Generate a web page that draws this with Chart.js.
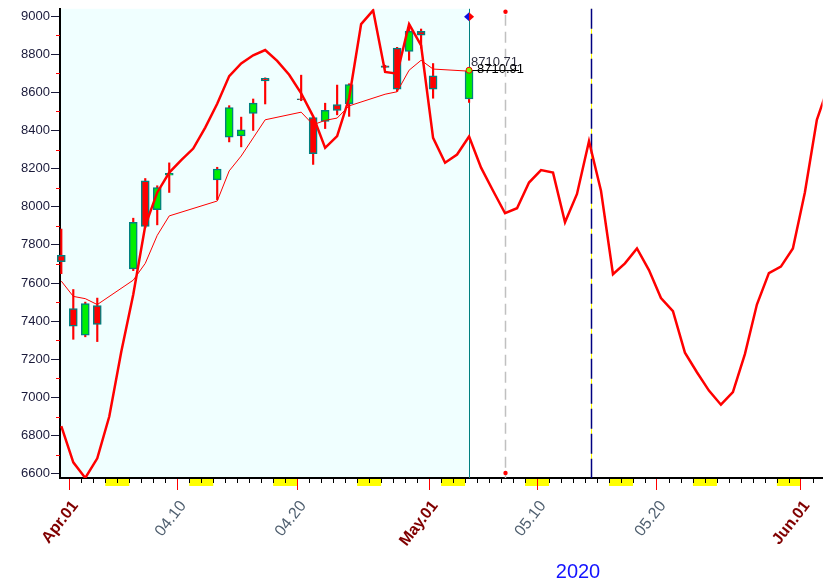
<!DOCTYPE html>
<html>
<head>
<meta charset="utf-8">
<script src="https://cdn.jsdelivr.net/npm/chart.js@4.4.0/dist/chart.umd.min.js"></script>
<style>
  html, body { margin: 0; padding: 0; background: #fff; }
</style>
</head>
<body>
<canvas id="chart" width="823" height="582"></canvas>
<script>
// days are counted from Apr 1 2020 (0 = Apr.01, -1 = Mar 31)
const candleDays = [-1, 0, 1, 2, 5, 6, 7, 8, 12, 13, 14, 15, 16, 19, 20, 21, 22, 23, 26, 27, 28, 29, 30, 33];
const opens  = [7745, 7466, 7326, 7482, 7674, 8136, 7985, 8165, 8141, 8365, 8372, 8489, 8674, 8566, 8468, 8448, 8536, 8541, 8739, 8832, 8815, 8920, 8687, 8565];
const highs  = [7883, 7566, 7500, 7521, 7940, 8148, 8110, 8230, 8207, 8530, 8470, 8565, 8676, 8690, 8472, 8543, 8638, 8645, 8742, 8836, 8955, 8932, 8751, 8716];
const lows   = [7649, 7305, 7318, 7293, 7665, 7890, 7905, 8075, 8037, 8340, 8314, 8400, 8539, 8556, 8222, 8410, 8482, 8474, 8728, 8605, 8768, 8832, 8569, 8547];
const closes = [7712, 7374, 7492, 7383, 7918, 7897, 8100, 8175, 8198, 8520, 8403, 8543, 8660, 8562, 8278, 8505, 8505, 8640, 8731, 8617, 8920, 8900, 8617, 8710.71];

// moving average, one value per candle
const maValues = [7610, 7530, 7518, 7487, 7615, 7703, 7850, 7952, 8030, 8188, 8266, 8361, 8456, 8496, 8430, 8453, 8465, 8529, 8590, 8603, 8716, 8768, 8722, 8711];

// cycle line, one value per calendar day starting Mar 31
const cycleStart = -1;
const cycleValues = [
  6850, 6660, 6578, 6681, 6900, 7240, 7540, 7900, 8075, 8179,
  8245, 8305, 8415, 8540, 8685, 8752, 8794, 8822, 8765, 8692,
  8595, 8474, 8309, 8370, 8570, 8958, 9030, 8707, 8698, 8958,
  8846, 8361, 8231, 8274, 8368, 8205, 8084, 7966, 7992, 8127,
  8192, 8179, 7919, 8067, 8344, 8084, 7646, 7703, 7781, 7668,
  7521, 7452, 7235, 7132, 7036, 6962, 7028, 7227, 7487, 7652,
  7686, 7781, 8075, 8456, 8640
];

const tickDays   = [0, 9, 19, 30, 39, 49, 61];
const tickLabels = ["Apr.01", "04.10", "04.20", "May.01", "05.10", "05.20", "Jun.01"];
const monthStart = [true, false, false, true, false, false, true];
const yTicks = [6600, 6800, 7000, 7200, 7400, 7600, 7800, 8000, 8200, 8400, 8600, 8800, 9000];

const lastClose = 8710.71;
const lastMark = 8710.91;
const nowDay = 33;     // May 4, end of history
const projDay = 36;    // May 7
const turnDay = 43.5;  // May 14
const yearLabel = "2020";

const SESSION = 1 / 3; // bars sit a bit to the right of the date tick
const FONT = "'Liberation Sans', Arial, sans-serif";

const bodies = candleDays.map((d, i) => ({ x: d + SESSION, y: [opens[i], closes[i]] }));
const wicks = candleDays.map((d, i) => ({ x: d + SESSION, y: [lows[i], highs[i]] }));
const bodyColors = candleDays.map((d, i) => (closes[i] >= opens[i] ? "#00ee00" : "#ff0000"));
const maPoints = candleDays.map((d, i) => ({ x: d + SESSION, y: maValues[i] }));
const cyclePoints = cycleValues.map((v, i) => ({ x: cycleStart + i + SESSION, y: v }));

function isMonthTick(c) {
  if (!c || !c.tick) return false;
  return !!monthStart[tickDays.indexOf(c.tick.value)];
}

const overlay = {
  id: "overlay",
  beforeDraw(chart) {
    const { ctx, chartArea: a, scales: { x } } = chart;
    const nowX = x.getPixelForValue(nowDay + SESSION);
    ctx.save();
    ctx.fillStyle = "#f0ffff";
    ctx.fillRect(a.left, a.top, nowX - a.left, a.bottom - a.top);
    // weekend marks under the axis
    ctx.fillStyle = "#ffff00";
    for (let d = Math.ceil(x.min); d < x.max; d++) {
      if (new Date(2020, 3, 1 + d).getDay() !== 6) continue;
      const x0 = x.getPixelForValue(d);
      const x1 = Math.min(x.getPixelForValue(d + 2), a.right);
      ctx.fillRect(x0, a.bottom, x1 - x0, 8);
    }
    ctx.restore();
  },
  beforeDatasetsDraw(chart) {
    const { ctx, chartArea: a, scales: { x } } = chart;
    ctx.save();
    // end of history
    const nowX = Math.round(x.getPixelForValue(nowDay + SESSION)) + 0.5;
    ctx.strokeStyle = "#008080";
    ctx.lineWidth = 1;
    ctx.beginPath(); ctx.moveTo(nowX, a.top); ctx.lineTo(nowX, a.bottom); ctx.stroke();
    // projection day
    const pX = Math.round(x.getPixelForValue(projDay + SESSION)) + 0.5;
    ctx.strokeStyle = "#c0c0c0";
    ctx.lineWidth = 1.5;
    ctx.setLineDash([11, 6]);
    ctx.beginPath(); ctx.moveTo(pX, a.top + 6); ctx.lineTo(pX, a.bottom); ctx.stroke();
    // turning point
    const tX = Math.round(x.getPixelForValue(turnDay)) + 0.5;
    ctx.lineWidth = 1;
    ctx.setLineDash([]);
    ctx.strokeStyle = "#ffff00";
    ctx.beginPath(); ctx.moveTo(tX, a.top); ctx.lineTo(tX, a.bottom); ctx.stroke();
    ctx.strokeStyle = "#000080";
    ctx.lineWidth = 1.5;
    ctx.setLineDash([20, 5]);
    ctx.beginPath(); ctx.moveTo(tX, a.top); ctx.lineTo(tX, a.bottom); ctx.stroke();
    ctx.restore();
  },
  afterDatasetsDraw(chart) {
    const { ctx, chartArea: a, scales: { x, y } } = chart;
    const nowX = x.getPixelForValue(nowDay + SESSION);
    const yLast = y.getPixelForValue(lastClose);
    ctx.save();
    // last price line and labels
    ctx.strokeStyle = "#000";
    ctx.lineWidth = 1;
    ctx.beginPath();
    ctx.moveTo(nowX, Math.round(yLast) - 0.5);
    ctx.lineTo(nowX + 50, Math.round(yLast) - 0.5);
    ctx.stroke();
    ctx.font = "13px " + FONT;
    ctx.textBaseline = "alphabetic";
    ctx.fillStyle = "#303040";
    ctx.fillText(lastClose.toFixed(2), nowX + 2, yLast - 5);
    ctx.fillStyle = "#000";
    ctx.fillText(lastMark.toFixed(2), nowX + 8, yLast + 2);
    ctx.beginPath();
    ctx.arc(nowX, yLast - 1, 3, 0, Math.PI * 2);
    ctx.fillStyle = "#7fff00";
    ctx.fill();
    ctx.strokeStyle = "#ff0000";
    ctx.stroke();
    // diamond on top of the history line
    const cy = a.top + 8;
    ctx.fillStyle = "#1010e0";
    ctx.beginPath(); ctx.moveTo(nowX - 5, cy); ctx.lineTo(nowX, cy - 4.5); ctx.lineTo(nowX, cy + 4.5); ctx.fill();
    ctx.fillStyle = "#ff0000";
    ctx.beginPath(); ctx.moveTo(nowX + 5, cy); ctx.lineTo(nowX, cy - 4.5); ctx.lineTo(nowX, cy + 4.5); ctx.fill();
    // red dots on the projection line
    const pX = Math.round(x.getPixelForValue(projDay + SESSION)) + 0.5;
    ctx.fillStyle = "#ff0000";
    ctx.beginPath(); ctx.arc(pX, a.top + 3, 2.2, 0, Math.PI * 2); ctx.fill();
    ctx.beginPath(); ctx.arc(pX, a.bottom - 5, 2.2, 0, Math.PI * 2); ctx.fill();
    ctx.restore();
  },
  afterDraw(chart) {
    const { ctx, chartArea: a, scales: { x, y } } = chart;
    ctx.save();
    // daily minor ticks
    ctx.strokeStyle = "#000";
    ctx.lineWidth = 1;
    ctx.beginPath();
    for (let d = Math.ceil(x.min); d < x.max; d++) {
      if (tickDays.includes(d)) continue;
      const px = Math.round(x.getPixelForValue(d)) + 0.5;
      ctx.moveTo(px, a.bottom + 1);
      ctx.lineTo(px, a.bottom + 5);
    }
    ctx.stroke();
    // minor y ticks every 100
    ctx.strokeStyle = "#ff0000";
    ctx.beginPath();
    yTicks.forEach((v) => {
      if (v + 100 > y.max) return;
      const py = Math.round(y.getPixelForValue(v + 100)) + 0.5;
      ctx.moveTo(a.left - 4, py);
      ctx.lineTo(a.left, py);
    });
    ctx.stroke();
    // year
    ctx.fillStyle = "#1414ff";
    ctx.font = "20px " + FONT;
    ctx.textAlign = "center";
    ctx.fillText(yearLabel, 578, 578);
    ctx.restore();
  },
};

new Chart(document.getElementById("chart"), {
  type: "bar",
  data: {
    datasets: [
      {
        type: "line", label: "cycle", data: cyclePoints,
        borderColor: "#ff0000", borderWidth: 2.5, pointRadius: 0, tension: 0, order: 1,
      },
      {
        type: "line", label: "ma", data: maPoints,
        borderColor: "#ff0000", borderWidth: 1, pointRadius: 0, tension: 0, order: 2,
      },
      {
        label: "body", data: bodies, backgroundColor: bodyColors,
        borderColor: "#008080", borderWidth: 1.5, borderSkipped: false,
        barThickness: 8, grouped: false, order: 3, clip: false,
      },
      {
        label: "wick", data: wicks, backgroundColor: "#ff0000",
        barThickness: 1.5, grouped: false, order: 4, clip: false,
      },
    ],
  },
  options: {
    responsive: false,
    animation: false,
    devicePixelRatio: 1,
    layout: { padding: { top: 5, right: 0, left: 0, bottom: 0 } },
    plugins: { legend: { display: false }, tooltip: { enabled: false } },
    scales: {
      x: {
        type: "linear",
        min: -0.775,
        max: 62.81,
        offset: false,
        afterBuildTicks: (s) => { s.ticks = tickDays.map((v) => ({ value: v })); },
        afterFit: (s) => { s.height = 104; },
        grid: { drawOnChartArea: false, offset: false, color: "#ff0000", tickLength: 12 },
        border: { color: "#000", width: 2 },
        ticks: {
          autoSkip: false,
          minRotation: 52,
          maxRotation: 52,
          padding: 7,
          labelOffset: 6,
          callback: (v) => tickLabels[tickDays.indexOf(v)],
          color: (c) => (isMonthTick(c) ? "#800000" : "#4f5f6f"),
          font: (c) => ({ family: FONT, size: 16, weight: isMonthTick(c) ? "bold" : "normal" }),
        },
      },
      y: {
        min: 6577.6,
        max: 9038,
        afterBuildTicks: (s) => { s.ticks = yTicks.map((v) => ({ value: v })); },
        afterFit: (s) => { s.width = 60; },
        grid: { drawOnChartArea: false, color: "#1a1a3a", tickLength: 9 },
        border: { color: "#000", width: 2 },
        ticks: {
          padding: 1,
          color: "#1a1a3a",
          font: { family: FONT, size: 13 },
          callback: (v) => String(v),
        },
      },
    },
  },
  plugins: [overlay],
});
</script>
</body>
</html>
